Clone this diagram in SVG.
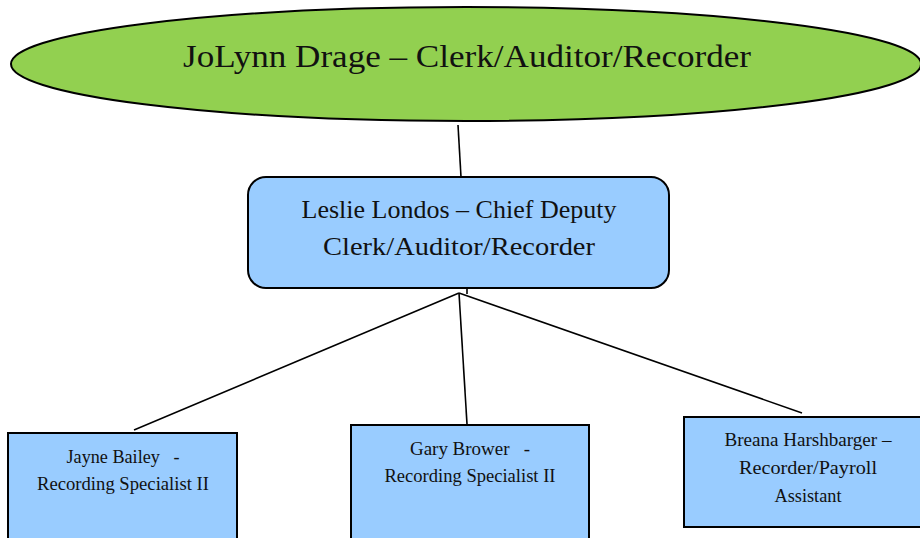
<svg xmlns="http://www.w3.org/2000/svg" width="920" height="538" viewBox="0 0 920 538">
<style>
text{font-family:"Liberation Serif","DejaVu Serif",serif;fill:#111;text-anchor:middle}
.box{fill:#99CCFF;stroke:#000;stroke-width:2}
.ln{stroke:#000;stroke-width:1.6;fill:none}
.s{font-size:18px}
</style>
<rect width="920" height="538" fill="#fff"/>
<g id="connectors">
<line class="ln" x1="458" y1="125" x2="461" y2="177"/>
<line class="ln" x1="459" y1="293" x2="134" y2="430"/>
<line class="ln" x1="459" y1="293" x2="467" y2="424"/>
<line class="ln" x1="459" y1="293" x2="802" y2="413"/>
<line class="ln" x1="467" y1="288" x2="467" y2="294"/>
</g>
<g id="clerk">
<ellipse cx="466" cy="64" rx="455" ry="57" fill="#92D050" stroke="#000" stroke-width="2"/>
<text x="467" y="67" font-size="32" textLength="568" lengthAdjust="spacingAndGlyphs">JoLynn Drage – Clerk/Auditor/Recorder</text>
</g>
<g id="deputy">
<rect class="box" x="248" y="177" width="421" height="111" rx="18"/>
<text x="459" y="218" font-size="25" textLength="315" lengthAdjust="spacingAndGlyphs">Leslie Londos – Chief Deputy</text>
<text x="459" y="255" font-size="25" textLength="272" lengthAdjust="spacingAndGlyphs">Clerk/Auditor/Recorder</text>
</g>
<g id="jayne">
<rect class="box" x="8" y="433" width="229" height="110"/>
<text class="s" x="123" y="463" xml:space="preserve" textLength="113" lengthAdjust="spacingAndGlyphs">Jayne Bailey   -</text>
<text class="s" x="123" y="490" textLength="172" lengthAdjust="spacingAndGlyphs">Recording Specialist II</text>
</g>
<g id="gary">
<rect class="box" x="351" y="425" width="238" height="118"/>
<text class="s" x="470" y="455" xml:space="preserve" textLength="120" lengthAdjust="spacingAndGlyphs">Gary Brower   -</text>
<text class="s" x="470" y="482" textLength="171" lengthAdjust="spacingAndGlyphs">Recording Specialist II</text>
</g>
<g id="breana">
<rect class="box" x="684" y="417" width="240" height="110"/>
<text class="s" x="808" y="446" textLength="167" lengthAdjust="spacingAndGlyphs">Breana Harshbarger –</text>
<text class="s" x="808" y="474" textLength="138" lengthAdjust="spacingAndGlyphs">Recorder/Payroll</text>
<text class="s" x="808" y="502" textLength="67" lengthAdjust="spacingAndGlyphs">Assistant</text>
</g>
</svg>
